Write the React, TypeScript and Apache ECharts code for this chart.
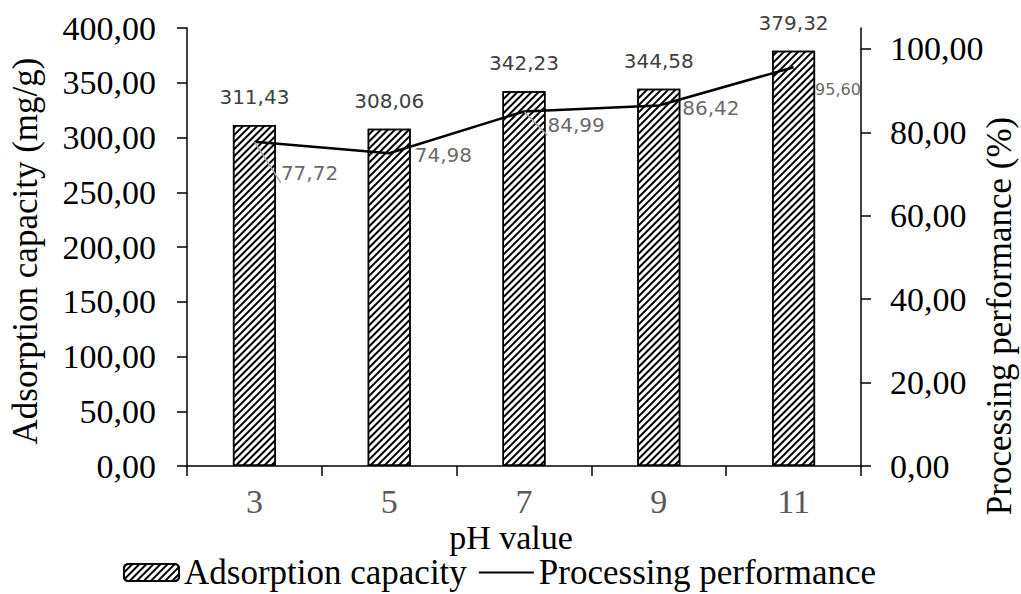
import React, { useEffect, useRef } from "react";
import * as echarts from "echarts";

const categories = ["3", "5", "7", "9", "11"];
const adsorption = [311.43, 308.06, 342.23, 344.58, 379.32];
const performance = [77.72, 74.98, 84.99, 86.42, 95.6];
const leftTicks = [0, 50, 100, 150, 200, 250, 300, 350, 400];
const rightTicks = [0, 20, 40, 60, 80, 100];

const perfLabelOffsets = [
  [26, 31],
  [25, 2],
  [23, 14],
  [23, 2],
  [21, 22],
];
const perfLabelSizes = [20, 20, 20, 20, 16];
const perfLeader = [true, false, true, false, false];

const fmt = (v: number) => v.toFixed(2).replace(".", ",");
const SERIF = "'Liberation Serif', 'Times New Roman', serif";
const SANS = "'DejaVu Sans', Verdana, sans-serif";

export default function App() {
  const ref = useRef<HTMLDivElement>(null);
  useEffect(() => {
    if (!ref.current) return;
    const chart = echarts.init(ref.current, undefined, { renderer: "svg" });
    const option: any = {
      animation: false,
      backgroundColor: "#fff",
      grid: { left: 187, right: 160, top: 28, bottom: 128, containLabel: false },
      legend: {
        left: 123,
        top: 555,
        padding: 0,
        itemWidth: 55,
        itemHeight: 17,
        itemGap: 11,
        textStyle: { fontFamily: SERIF, fontSize: 35, color: "#000" },
        data: [
          { name: "Adsorption capacity" },
          { name: "Processing performance", itemStyle: { opacity: 0 } },
        ],
      },
      xAxis: {
        type: "category",
        data: categories,
        boundaryGap: true,
        axisLine: { lineStyle: { color: "#000", width: 1.5 } },
        axisTick: { show: true, inside: false, length: 10, lineStyle: { color: "#000", width: 1.5 } },
        axisLabel: { fontFamily: SERIF, fontSize: 34, color: "#595959", margin: 18 },
      },
      yAxis: [
        {
          type: "value",
          min: 0,
          max: 400,
          interval: 50,
          splitLine: { show: false },
          axisLine: { show: true, lineStyle: { color: "#000", width: 1.5 } },
          axisTick: { show: true, length: 10, lineStyle: { color: "#000", width: 1.5 }, customValues: leftTicks },
          axisLabel: {
            fontFamily: SERIF,
            fontSize: 34,
            color: "#000",
            margin: 31,
            customValues: leftTicks,
            formatter: (v: number) => fmt(v),
          },
        },
        {
          type: "value",
          min: 0,
          max: 105,
          position: "right",
          splitLine: { show: false },
          axisLine: { show: true, lineStyle: { color: "#000", width: 1.5 } },
          axisTick: { show: true, length: 10, lineStyle: { color: "#000", width: 1.5 }, customValues: rightTicks },
          axisLabel: {
            fontFamily: SERIF,
            fontSize: 34,
            color: "#000",
            margin: 29,
            customValues: rightTicks,
            formatter: (v: number) => fmt(v),
          },
        },
      ],
      graphic: [
        {
          type: "text",
          x: 25,
          y: 251,
          rotation: Math.PI / 2,
          style: {
            text: "Adsorption capacity (mg/g)",
            font: `35px ${SERIF}`,
            fill: "#000",
            textAlign: "center",
            textVerticalAlign: "middle",
          },
        },
        {
          type: "text",
          x: 999,
          y: 316,
          rotation: Math.PI / 2,
          style: {
            text: "Processing performance (%)",
            font: `35px ${SERIF}`,
            fill: "#000",
            textAlign: "center",
            textVerticalAlign: "middle",
          },
        },
        {
          type: "text",
          x: 511,
          y: 537,
          style: {
            text: "pH value",
            font: `34px ${SERIF}`,
            fill: "#000",
            textAlign: "center",
            textVerticalAlign: "middle",
          },
        },
      ],
      series: [
        {
          name: "Adsorption capacity",
          type: "bar",
          yAxisIndex: 0,
          barWidth: 43,
          data: adsorption,
          itemStyle: {
            color: "#fff",
            borderColor: "#000",
            borderWidth: 1.5,
            decal: {
              symbol: "rect",
              symbolSize: 1,
              dashArrayX: [1, 0],
              dashArrayY: [1.8, 2.2],
              rotation: -Math.PI / 4,
              color: "#000",
              backgroundColor: "#fff",
            },
          },
          label: {
            show: true,
            position: "top",
            distance: 18,
            fontFamily: SANS,
            fontSize: 20,
            color: "#404040",
            formatter: (p: any) => fmt(p.value),
          },
        },
        {
          name: "Processing performance",
          type: "line",
          yAxisIndex: 1,
          symbol: "none",
          itemStyle: { color: "#000" },
          lineStyle: { color: "#000", width: 2.5 },
          data: performance,
        },
        {
          name: "perf-labels",
          type: "scatter",
          yAxisIndex: 1,
          symbolSize: 1,
          itemStyle: { color: "rgba(0,0,0,0)" },
          silent: true,
          z: 5,
          data: performance.map((v, i) => ({
            value: v,
            label: {
              show: true,
              position: "right",
              distance: 0,
              offset: perfLabelOffsets[i],
              fontFamily: SANS,
              fontSize: perfLabelSizes[i],
              color: "#404040",
              formatter: (p: any) => fmt(p.value),
            },
            labelLine: {
              show: perfLeader[i],
              lineStyle: { color: "#a6a6a6", width: 1.5 },
            },
          })),
        },
      ],
    };
    chart.setOption(option);
    return () => chart.dispose();
  }, []);
  return (
    <div
      ref={ref}
      style={{ position: "absolute", left: 0, top: 0, width: 1021, height: 594, background: "#fff" }}
    />
  );
}
